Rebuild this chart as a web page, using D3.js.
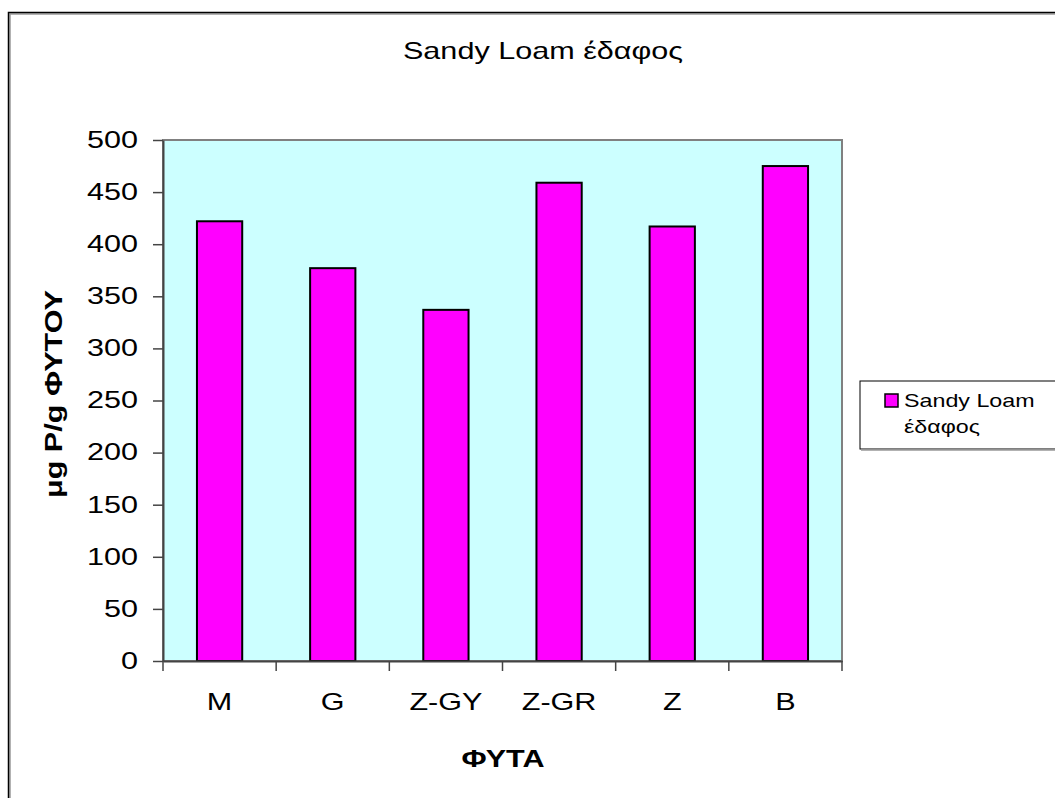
<!DOCTYPE html>
<html>
<head>
<meta charset="utf-8">
<script src="https://cdn.jsdelivr.net/npm/d3@7"></script>
<style>
body { margin: 0; background: #fff; }
text { font-family: "Liberation Sans", Arial, sans-serif; fill: #000; }
</style>
</head>
<body>
<script>
var categories = ["M", "G", "Z-GY", "Z-GR", "Z", "B"];
var values = [422, 377, 337, 459, 417, 475];
var yTicks = [0, 50, 100, 150, 200, 250, 300, 350, 400, 450, 500];
var seriesName = "Sandy Loam έδαφος";

var W = 1055, H = 798;
var mLeft = 163, mRight = 842, mTop = 140, mBottom = 661;
var stretch = 1.33; // the reference text is drawn wide

var svg = d3.select("body").append("svg")
    .attr("width", W)
    .attr("height", H);

// widen a text around its own anchor point
function widen(sel) {
    sel.each(function(){
        var t = d3.select(this);
        var tx = +t.attr("x") || 0, ty = +t.attr("y") || 0;
        var old = t.attr("transform") || "";
        t.attr("x", 0).attr("y", 0)
         .attr("transform", old + " translate(" + tx + "," + ty + ") scale(" + stretch + ",1)");
    });
}

// outer chart frame
svg.append("rect").attr("x", 10).attr("y", 14).attr("width", 1100).attr("height", 900)
    .attr("fill", "none").attr("stroke", "#999").attr("stroke-width", 1.5);
svg.append("rect").attr("x", 8.5).attr("y", 12.5).attr("width", 1100).attr("height", 900)
    .attr("fill", "none").attr("stroke", "#000").attr("stroke-width", 1.5);

var xb = d3.scaleBand().domain(categories).range([mLeft, mRight]);
var y = d3.scaleLinear().domain([0, 500]).range([mBottom, mTop]);

// plot area
svg.append("rect").attr("x", mLeft).attr("y", mTop)
    .attr("width", mRight - mLeft).attr("height", mBottom - mTop)
    .attr("fill", "#CCFFFF").attr("stroke", "#808080").attr("stroke-width", 2);

// bars
svg.selectAll(".bar")
    .data(values)
    .enter()
    .append("rect")
    .attr("class", "bar")
    .attr("x", function(d, i){ return xb(categories[i]) + xb.bandwidth() * 0.3; })
    .attr("width", xb.bandwidth() * 0.4)
    .attr("y", function(d){ return y(d); })
    .attr("height", function(d){ return y(0) - y(d); })
    .attr("fill", "#FF00FF")
    .attr("stroke", "#000")
    .attr("stroke-width", 2);

// y axis
var yAxis = svg.append("g")
    .attr("transform", "translate(" + mLeft + ",0)")
    .call(d3.axisLeft(y).tickValues(yTicks).tickSize(10).tickPadding(15).tickSizeOuter(0));
yAxis.select(".domain").attr("stroke", "#444").attr("stroke-width", 2);
yAxis.selectAll(".tick line").attr("stroke", "#444").attr("stroke-width", 1.5);
yAxis.selectAll("text").style("font-size", "23px").attr("fill", "#000").call(widen);

// x axis
var xAxis = svg.append("g")
    .attr("transform", "translate(0," + mBottom + ")")
    .call(d3.axisBottom(xb).tickSize(0).tickPadding(33));
xAxis.select(".domain").attr("stroke", "#444").attr("stroke-width", 2);
xAxis.selectAll("text").style("font-size", "23px").attr("fill", "#000").call(widen);
xAxis.selectAll(".edge")
    .data(categories.concat(["_end"]))
    .enter()
    .append("line")
    .attr("x1", function(d, i){ return i < categories.length ? xb(d) : mRight; })
    .attr("x2", function(d, i){ return i < categories.length ? xb(d) : mRight; })
    .attr("y1", 0).attr("y2", 10)
    .attr("stroke", "#444").attr("stroke-width", 1.5);

// titles
svg.append("text").attr("x", 543).attr("y", 59).attr("text-anchor", "middle")
    .style("font-size", "23px").text(seriesName).call(widen);
svg.append("text").attr("x", 503).attr("y", 767).attr("text-anchor", "middle")
    .style("font-size", "23px").style("font-weight", "bold").text("ΦΥΤΑ").call(widen);
svg.append("text").attr("transform", "translate(62,394) rotate(-90)").attr("text-anchor", "middle")
    .style("font-size", "23px").style("font-weight", "bold").text("μg P/g ΦΥΤΟΥ").call(widen);

// legend
var lg = svg.append("g");
lg.append("rect").attr("x", 860).attr("y", 381).attr("width", 200).attr("height", 68)
    .attr("fill", "#fff").attr("stroke", "#000").attr("stroke-width", 1);
lg.append("line").attr("x1", 861).attr("x2", 1060).attr("y1", 450).attr("y2", 450)
    .attr("stroke", "#999").attr("stroke-width", 1.5);
lg.append("rect").attr("x", 885).attr("y", 394).attr("width", 13).attr("height", 13)
    .attr("fill", "#FF00FF").attr("stroke", "#000").attr("stroke-width", 1.5);
lg.append("text").attr("x", 904).attr("y", 407).style("font-size", "17.5px").text("Sandy Loam").call(widen);
lg.append("text").attr("x", 904).attr("y", 433).style("font-size", "17.5px").text("έδαφος").call(widen);
</script>
</body>
</html>
